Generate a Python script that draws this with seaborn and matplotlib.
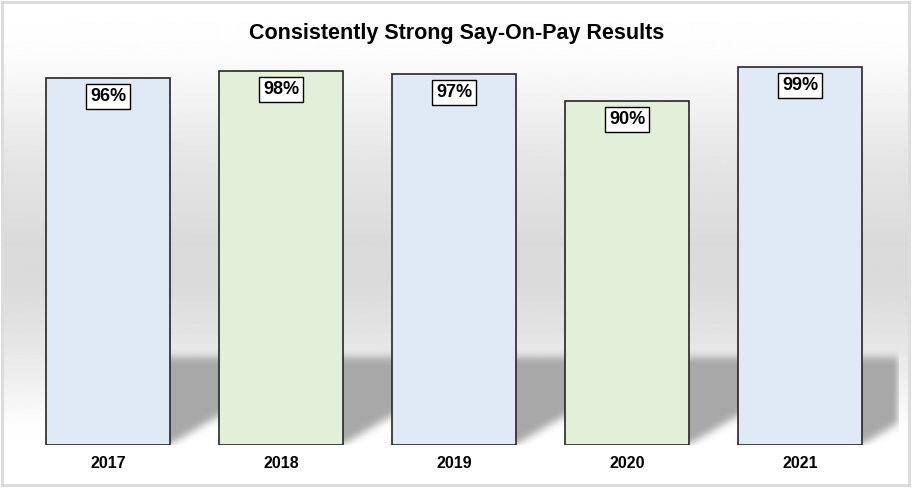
import matplotlib
matplotlib.use("Agg")
import matplotlib.pyplot as plt
import seaborn as sns
import numpy as np
import pandas as pd

# Data
years = ["2017", "2018", "2019", "2020", "2021"]
support = [96, 98, 97, 90, 99]
bar_colors = ["#dfeaf6", "#e2efd9", "#dfeaf6", "#e2efd9", "#dfeaf6"]
title = "Consistently Strong Say-On-Pay Results"

sns.set_theme(style="white")
plt.rcParams["font.family"] = ["Liberation Sans", "DejaVu Sans"]

W, H = 914, 492
fig = plt.figure(figsize=(W / 100, H / 100), dpi=100)
fig.patch.set_facecolor("white")

# background panel with vertical grey gradient
bg = fig.add_axes([3 / W, 1 - 484 / H, 905 / W, 482 / H])
stops_y = [0, 50, 100, 150, 240, 290, 340, 390, 425, 484]
stops_v = [1.0, 0.99, 0.95, 0.905, 0.855, 0.86, 0.9, 0.95, 0.995, 1.0]
rows = np.interp(np.arange(484), stops_y, stops_v)
grad = np.repeat(rows[:, None], 2, axis=1)
bg.imshow(grad, cmap="gray", vmin=0, vmax=1, aspect="auto", extent=(0, 1, 0, 1))
bg.set_axis_off()
frame = plt.Rectangle((2 / W, 1 - 485 / H), 907 / W, 483 / H, transform=fig.transFigure,
                      fill=False, edgecolor="#dcdcdc", linewidth=2.2)
fig.add_artist(frame)

# main axes
px_per_cat = 173.1
left_px, right_px = 108 - 0.5 * px_per_cat, 899
x_max = (right_px - 108) / px_per_cat
ax = fig.add_axes([left_px / W, 1 - 445 / H, (right_px - left_px) / W, (445 - 63) / H])
ax.patch.set_alpha(0)

df = pd.DataFrame({"year": years, "support": support})
bar_w = 124 / px_per_cat
sns.barplot(data=df, x="year", y="support", hue="year", palette=bar_colors, legend=False,
            width=bar_w, edgecolor="#262626", linewidth=1.2, saturation=1, ax=ax, zorder=3)
ax.set_xlim(-0.5, x_max)
ax.set_ylim(0, 100)

# soft shadow behind the bars
px_per_unit = (445 - 63) / 100
sh_top = 26
nx, ny = int(right_px - left_px), int(sh_top * px_per_unit)
X, Y = np.meshgrid(np.linspace(-0.5, x_max, nx), np.linspace(0, sh_top, ny))
k = 1.7 * px_per_unit / px_per_cat
a = 60 / px_per_cat
off = np.minimum(k * Y, a)
mask = np.zeros_like(X)
for i in range(len(years)):
    inside = (X >= i - bar_w / 2 + off) & (X <= i + bar_w / 2 + off) & (Y <= 23.0)
    mask[inside] = 1.0
kern = np.ones(9) / 9
for _ in range(2):
    mask = np.apply_along_axis(lambda r: np.convolve(r, kern, mode="same"), 1, mask)
    mask = np.apply_along_axis(lambda c: np.convolve(c, kern, mode="same"), 0, mask)
rgba = np.zeros((ny, nx, 4))
rgba[..., :3] = 0.66
rgba[..., 3] = mask
ax.imshow(rgba, origin="lower", extent=(-0.5, x_max, 0, sh_top), aspect="auto", zorder=1,
          interpolation="bilinear")

# value boxes
for i, v in enumerate(support):
    ax.annotate(f"{v}%", xy=(i, v), xytext=(0, -13.3), textcoords="offset points",
                ha="center", va="center", fontsize=13, fontweight="bold", color="black",
                bbox=dict(boxstyle="square,pad=0.22", facecolor="white", edgecolor="black",
                          linewidth=1.0), zorder=5)

sns.despine(ax=ax, left=True, bottom=True)
ax.set_xlabel("")
ax.set_ylabel("")
ax.set_yticks([])
ax.tick_params(axis="x", length=0, pad=8)
for lbl in ax.get_xticklabels():
    lbl.set_fontweight("bold")
    lbl.set_fontsize(11.5)
    lbl.set_color("black")

fig.text(457 / W, 1 - 33 / H, title, ha="center", va="center", fontsize=15.5,
         fontweight="bold", color="black")

fig.savefig("out.png", dpi=100)
